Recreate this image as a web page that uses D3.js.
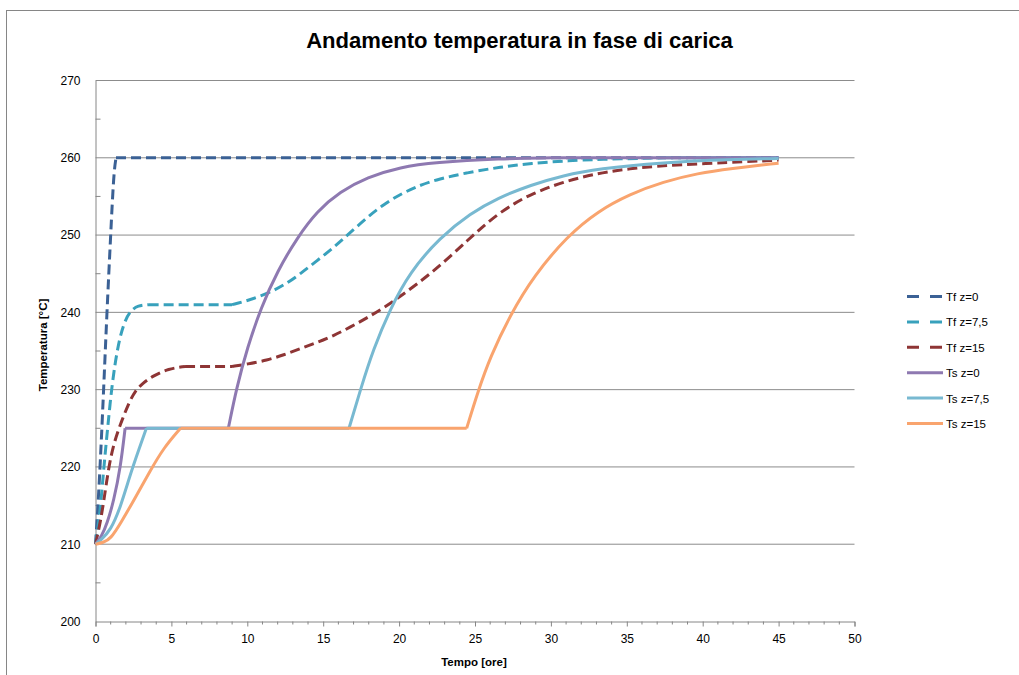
<!DOCTYPE html>
<html><head><meta charset="utf-8">
<script src="https://cdn.jsdelivr.net/npm/d3@7"></script>
<style>body{margin:0;background:#fff}svg{display:block}</style>
</head><body>
<svg id="c" width="1019" height="675"></svg>
<script>
// ---- data ----
const seriesNames = ["Tf z=0","Tf z=7,5","Tf z=15","Ts z=0","Ts z=7,5","Ts z=15"];
const tf0_t = [0,0.2,0.45,0.75,1.0,1.2,1.35,45];
const tf0_v = [210,216,226,240,250,258,260,260];
const tf75_t = [0,0.3,0.55,0.8,1.1,1.5,1.9,2.3,2.8,3.5,9,10,11.3,12.5,13.5,14.6,15.7,16.6,17.9,19,20.1,21.2,22.3,24.5,26.7,28.7,31,33.1,37.4,45];
const tf75_v = [210,214,220,225,231,236,238.8,240.2,240.9,241,241,241.5,242.4,243.6,245,246.7,248.4,250,252.3,254,255.3,256.3,257.1,258.1,258.8,259.3,259.6,259.8,260,260];
const tf15_t = [0,0.1,0.33,0.55,0.87,1.2,1.65,2.2,2.6,3.1,3.8,4.8,5.9,9,10,11.3,12.4,13.5,14.6,15.7,16.8,17.9,19,20.1,21.2,22.3,23.4,24.5,25.4,26.5,27.6,28.7,30.8,33.1,35.2,37.4,41.8,45];
const tf15_v = [210,210.9,213,215.6,220,223,225.6,228.3,229.8,230.8,231.8,232.7,233,233,233.3,233.8,234.5,235.3,236.1,237,238.1,239.3,240.6,242.1,243.7,245.4,247.3,249.3,250.9,252.7,254.1,255.3,256.9,258,258.6,259,259.4,259.7];
const ts0_t = [0,0.4,0.77,1.2,1.65,1.95,8.75,9.3,10.0,10.9,12.0,13.3,14.6,16.1,17.9,20.1,22.3,26.7,30,45];
const ts0_v = [210,211,212.7,215.6,220,225,225,230.3,235.4,240.6,245.4,249.7,253.1,255.6,257.5,258.8,259.4,259.9,260,260];
const ts75_t = [0,0.33,1.0,1.65,2.3,2.9,3.35,16.7,17.5,18.3,19.4,20.7,22.7,24.7,26.5,28.7,30.8,33.1,37.4,41.8,45];
const ts75_v = [210,210.5,211.8,214.8,219.1,222.5,225,225,230.3,235.2,240.4,245.2,249.7,252.8,254.8,256.5,257.7,258.6,259.4,259.8,259.9];
const ts15_t = [0,0.5,1.0,1.65,2.5,3.6,4.5,5.6,24.45,25.2,26.0,27.3,28.9,31.1,33.1,35.2,37.4,39.7,41.8,45];
const ts15_v = [210,210.2,210.7,212.7,215.6,219.5,222.5,225,225,229.8,234.2,239.6,244.8,249.9,253.1,255.3,256.9,258,258.6,259.3];
const xTicks = [0,5,10,15,20,25,30,35,40,45,50];
const yTicks = [200,210,220,230,240,250,260,270];
const colors = ["#3B6195","#38A1BC","#8E3535","#8E79B1","#78B9D1","#F9A46E"];
const dashed = [true,true,true,false,false,false];
const times = [tf0_t,tf75_t,tf15_t,ts0_t,ts75_t,ts15_t];
const vals = [tf0_v,tf75_v,tf15_v,ts0_v,ts75_v,ts15_v];

const svg = d3.select("#c");
const font = "'Liberation Sans', Arial, sans-serif";
// outer border
svg.append("rect").attr("x",6.5).attr("y",10.5).attr("width",1030).attr("height",700)
  .attr("fill","none").attr("stroke","#868686").attr("stroke-width",1);

const x = d3.scaleLinear().domain([0,50]).range([95.5,854.5]);
const y = d3.scaleLinear().domain([200,270]).range([621.5,80.5]);

// gridlines
svg.append("g").selectAll("line").data(yTicks.filter(d=>d>200)).join("line")
  .attr("x1",x(0)).attr("x2",x(50)).attr("y1",d=>y(d)).attr("y2",d=>y(d))
  .attr("stroke","#8C8C8C").attr("stroke-width",1);

// minor ticks y (inside)
svg.append("g").selectAll("line").data(d3.range(205,270,10)).join("line")
  .attr("x1",x(0)).attr("x2",x(0)+5).attr("y1",d=>y(d)).attr("y2",d=>y(d))
  .attr("stroke","#868686");
// minor ticks x
svg.append("g").selectAll("line").data(d3.range(1,50).filter(d=>d%5)).join("line")
  .attr("x1",d=>x(d)).attr("x2",d=>x(d)).attr("y1",y(200)).attr("y2",y(200)+3)
  .attr("stroke","#868686");

// axes
const gx = svg.append("g").attr("transform",`translate(0,${y(200)})`)
  .call(d3.axisBottom(x).tickValues(xTicks).tickSize(5).tickPadding(8).tickFormat(d3.format("d")));
const gy = svg.append("g").attr("transform",`translate(${x(0)},0)`)
  .call(d3.axisLeft(y).tickValues(yTicks).tickSize(0).tickPadding(15).tickFormat(d3.format("d")));
[gx,gy].forEach(g=>{
  g.selectAll("path,line").attr("stroke","#868686").attr("stroke-width",1);
  g.selectAll("text").attr("font-family",font).attr("font-size","12px").attr("fill","#000");
});

// lines: split each series into segments at flat plateaus so corners stay sharp
const line = d3.line().x(d=>x(d[0])).y(d=>y(d[1])).curve(d3.curveBasis);
function segPath(pts){
  const segs = [];
  let cur = [pts[0]], curFlat = null;
  for (let j=1;j<pts.length;j++){
    const flat = pts[j][1]===pts[j-1][1];
    if (curFlat!==null && flat!==curFlat){ segs.push(cur); cur=[pts[j-1]]; }
    curFlat = flat; cur.push(pts[j]);
  }
  segs.push(cur);
  return segs.map(s=>line(s)).join("");
}
const plot = svg.append("g");
times.forEach((t,i)=>{
  const pts = t.map((tt,j)=>[tt,vals[i][j]]);
  plot.append("path").attr("d",segPath(pts))
    .attr("fill","none").attr("stroke",colors[i]).attr("stroke-width",3)
    .attr("stroke-linejoin","round")
    .attr("stroke-dasharray",dashed[i]?"10,5":null);
});

// title
const title = svg.append("text").attr("x",519.5).attr("y",48).attr("text-anchor","middle")
  .attr("font-family",font).attr("font-weight","bold").attr("font-size","20px").text("Andamento temperatura in fase di carica");
const tw = title.node().getComputedTextLength();
title.attr("font-size",(20*427/tw)+"px");

// axis titles
svg.append("text").attr("x",474).attr("y",666).attr("text-anchor","middle")
  .attr("font-family",font).attr("font-weight","bold").attr("font-size","11.5px").text("Tempo [ore]");
svg.append("text").attr("transform","translate(47,345) rotate(-90)").attr("text-anchor","middle")
  .attr("font-family",font).attr("font-weight","bold").attr("font-size","11.5px").text("Temperatura [°C]");

// legend
const leg = svg.append("g");
seriesNames.forEach((n,i)=>{
  const ly = 296.5 + i*25.4;
  leg.append("line").attr("x1",907).attr("x2",943).attr("y1",ly).attr("y2",ly)
    .attr("stroke",colors[i]).attr("stroke-width",3).attr("stroke-dasharray",dashed[i]?"12,11":null);
  leg.append("text").attr("x",946).attr("y",ly+4.5).attr("font-family",font)
    .attr("font-size","11.5px").text(n);
});
</script>
</body></html>
